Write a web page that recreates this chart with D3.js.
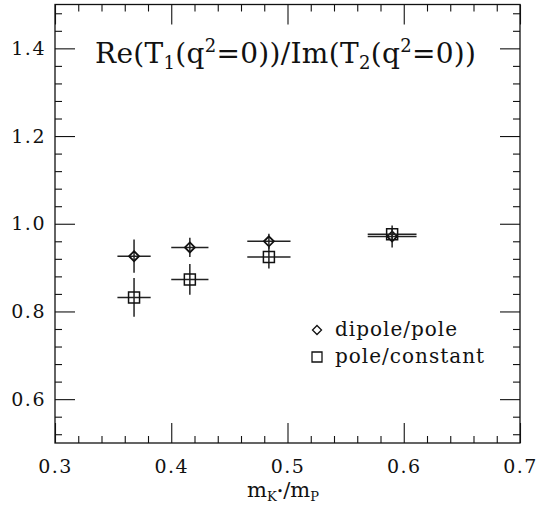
<!DOCTYPE html>
<html>
<head>
<meta charset="utf-8">
<script src="https://cdn.jsdelivr.net/npm/d3@7"></script>
<style>
  body { margin: 0; background: #fff; }
  text { font-family: "DejaVu Serif", serif; fill: #111; }
</style>
</head>
<body>
<script>
// data
var massRatio = [0.368, 0.416, 0.484, 0.590];
var massErr = [0.0143, 0.016, 0.0186, 0.021];
var dipolePole = [0.926, 0.946, 0.960, 0.971];
var dipolePoleErr = [0.038, 0.022, 0.017, 0.025];
var poleConst = [0.832, 0.873, 0.924, 0.976];
var poleConstErr = [0.044, 0.035, 0.026, 0.012];
var xTicks = [0.3, 0.4, 0.5, 0.6, 0.7];
var yTicks = [0.6, 0.8, 1.0, 1.2, 1.4];
var legendNames = ["dipole/pole", "pole/constant"];

var drawChart = function()
{
  var width = 551, height = 506;
  var mLeft = 55, mRight = 520, mTop = 4.5, mBottom = 443;

  var svg = d3.select("body")
              .append("svg")
              .attr("width", width)
              .attr("height", height);

  var x = d3.scaleLinear().domain([0.3, 0.7]).range([mLeft, mRight]);
  var y = d3.scaleLinear().domain([0.5, 1.5]).range([mBottom, mTop]);

  var xMinor = d3.range(0.32, 0.7, 0.02).filter(function(v){ return Math.abs(v*10 - Math.round(v*10)) > 0.01; });
  var yMinor = d3.range(0.52, 1.5, 0.04).filter(function(v){ return Math.abs(v*5 - Math.round(v*5)) > 0.01; });

  var majorLen = 20, minorLen = 7;

  function styleAxis(g) {
    g.select(".domain").remove();
    g.selectAll("line").attr("stroke", "#111").attr("stroke-width", 1.1);
    g.selectAll("text")
     .style("font-family", "DejaVu Serif")
     .style("font-size", "19px")
     .style("letter-spacing", "1.5px")
     .attr("fill", "#111");
  }

  // bottom
  svg.append("g").attr("transform", "translate(0," + mBottom + ")")
     .call(d3.axisBottom(x).tickValues(xTicks).tickSizeInner(-majorLen).tickSizeOuter(0).tickPadding(17).tickFormat(d3.format(".1f")))
     .call(styleAxis);
  svg.append("g").attr("transform", "translate(0," + mBottom + ")")
     .call(d3.axisBottom(x).tickValues(xMinor).tickSizeInner(-minorLen).tickSizeOuter(0).tickFormat(""))
     .call(styleAxis);
  // top
  svg.append("g").attr("transform", "translate(0," + mTop + ")")
     .call(d3.axisTop(x).tickValues(xTicks).tickSizeInner(-majorLen).tickSizeOuter(0).tickFormat(""))
     .call(styleAxis);
  svg.append("g").attr("transform", "translate(0," + mTop + ")")
     .call(d3.axisTop(x).tickValues(xMinor).tickSizeInner(-minorLen).tickSizeOuter(0).tickFormat(""))
     .call(styleAxis);
  // left
  svg.append("g").attr("transform", "translate(" + mLeft + ",0)")
     .call(d3.axisLeft(y).tickValues(yTicks).tickSizeInner(-majorLen).tickSizeOuter(0).tickPadding(9).tickFormat(d3.format(".1f")))
     .call(styleAxis);
  svg.append("g").attr("transform", "translate(" + mLeft + ",0)")
     .call(d3.axisLeft(y).tickValues(yMinor).tickSizeInner(-minorLen).tickSizeOuter(0).tickFormat(""))
     .call(styleAxis);
  // right
  svg.append("g").attr("transform", "translate(" + mRight + ",0)")
     .call(d3.axisRight(y).tickValues(yTicks).tickSizeInner(-majorLen).tickSizeOuter(0).tickFormat(""))
     .call(styleAxis);
  svg.append("g").attr("transform", "translate(" + mRight + ",0)")
     .call(d3.axisRight(y).tickValues(yMinor).tickSizeInner(-minorLen).tickSizeOuter(0).tickFormat(""))
     .call(styleAxis);

  // frame
  svg.append("rect")
     .attr("x", mLeft).attr("y", mTop)
     .attr("width", mRight - mLeft).attr("height", mBottom - mTop)
     .attr("fill", "none").attr("stroke", "#111").attr("stroke-width", 1.3);

  var rows = massRatio.map(function(m, i) {
    return {m: m, me: massErr[i], d: dipolePole[i], de: dipolePoleErr[i], p: poleConst[i], pe: poleConstErr[i]};
  });

  function errorBars(key, errKey, cls) {
    var g = svg.selectAll("g." + cls).data(rows).enter().append("g").attr("class", cls);
    g.append("line")
     .attr("x1", function(d){ return x(d.m - d.me); })
     .attr("x2", function(d){ return x(d.m + d.me); })
     .attr("y1", function(d){ return y(d[key]); })
     .attr("y2", function(d){ return y(d[key]); })
     .attr("stroke", "#222").attr("stroke-width", 1.5);
    g.append("line")
     .attr("x1", function(d){ return x(d.m); })
     .attr("x2", function(d){ return x(d.m); })
     .attr("y1", function(d){ return y(d[key] - d[errKey]); })
     .attr("y2", function(d){ return y(d[key] + d[errKey]); })
     .attr("stroke", "#222").attr("stroke-width", 1.5);
    return g;
  }

  var diamondPath = "M0,-5L5,0L0,5L-5,0Z";
  var squarePath = "M-5.5,-5.5H5.5V5.5H-5.5Z";

  var dg = errorBars("d", "de", "dipole");
  dg.append("path")
    .attr("d", diamondPath)
    .attr("transform", function(d){ return "translate(" + x(d.m) + "," + y(d.d) + ")"; })
    .attr("fill", "none").attr("stroke", "#111").attr("stroke-width", 1.8);

  var pg = errorBars("p", "pe", "pole");
  pg.append("path")
    .attr("d", squarePath)
    .attr("transform", function(d){ return "translate(" + x(d.m) + "," + y(d.p) + ")"; })
    .attr("fill", "none").attr("stroke", "#111").attr("stroke-width", 1.5);

  // legend
  svg.append("path").attr("d", "M0,-4.5L4.5,0L0,4.5L-4.5,0Z")
     .attr("transform", "translate(317,330)")
     .attr("fill", "none").attr("stroke", "#111").attr("stroke-width", 1.3);
  svg.append("path").attr("d", "M-5,-5H5V5H-5Z")
     .attr("transform", "translate(317,357)")
     .attr("fill", "none").attr("stroke", "#111").attr("stroke-width", 1.3);
  svg.selectAll("text.legend").data(legendNames).enter().append("text")
     .attr("class", "legend")
     .attr("x", 335)
     .attr("y", function(d, i){ return 336 + i * 27; })
     .style("font-size", "20px")
     .style("letter-spacing", "1px")
     .text(function(d){ return d; });

  // title
  var title = svg.append("text").attr("x", 95).attr("y", 63).style("font-size", "28px").style("letter-spacing", "0.3px");
  title.append("tspan").text("Re(T");
  title.append("tspan").attr("dy", 6).style("font-size", "18px").text("1");
  title.append("tspan").attr("dy", -6).text("(q");
  title.append("tspan").attr("dy", -11).style("font-size", "18px").text("2");
  title.append("tspan").attr("dy", 11).text("=0))/Im(T");
  title.append("tspan").attr("dy", 6).style("font-size", "18px").text("2");
  title.append("tspan").attr("dy", -6).text("(q");
  title.append("tspan").attr("dy", -11).style("font-size", "18px").text("2");
  title.append("tspan").attr("dy", 11).text("=0))");

  // x axis label
  var xl = svg.append("text").attr("x", 247).attr("y", 497).style("font-size", "21px");
  xl.append("tspan").text("m");
  xl.append("tspan").attr("dy", 4).style("font-size", "13px").text("K");
  xl.append("tspan").attr("dy", -6).style("font-size", "11px").text("•");
  xl.append("tspan").attr("dy", 2).text("/m");
  xl.append("tspan").attr("dy", 4).style("font-size", "13px").text("P");
};

drawChart();
</script>
</body>
</html>
